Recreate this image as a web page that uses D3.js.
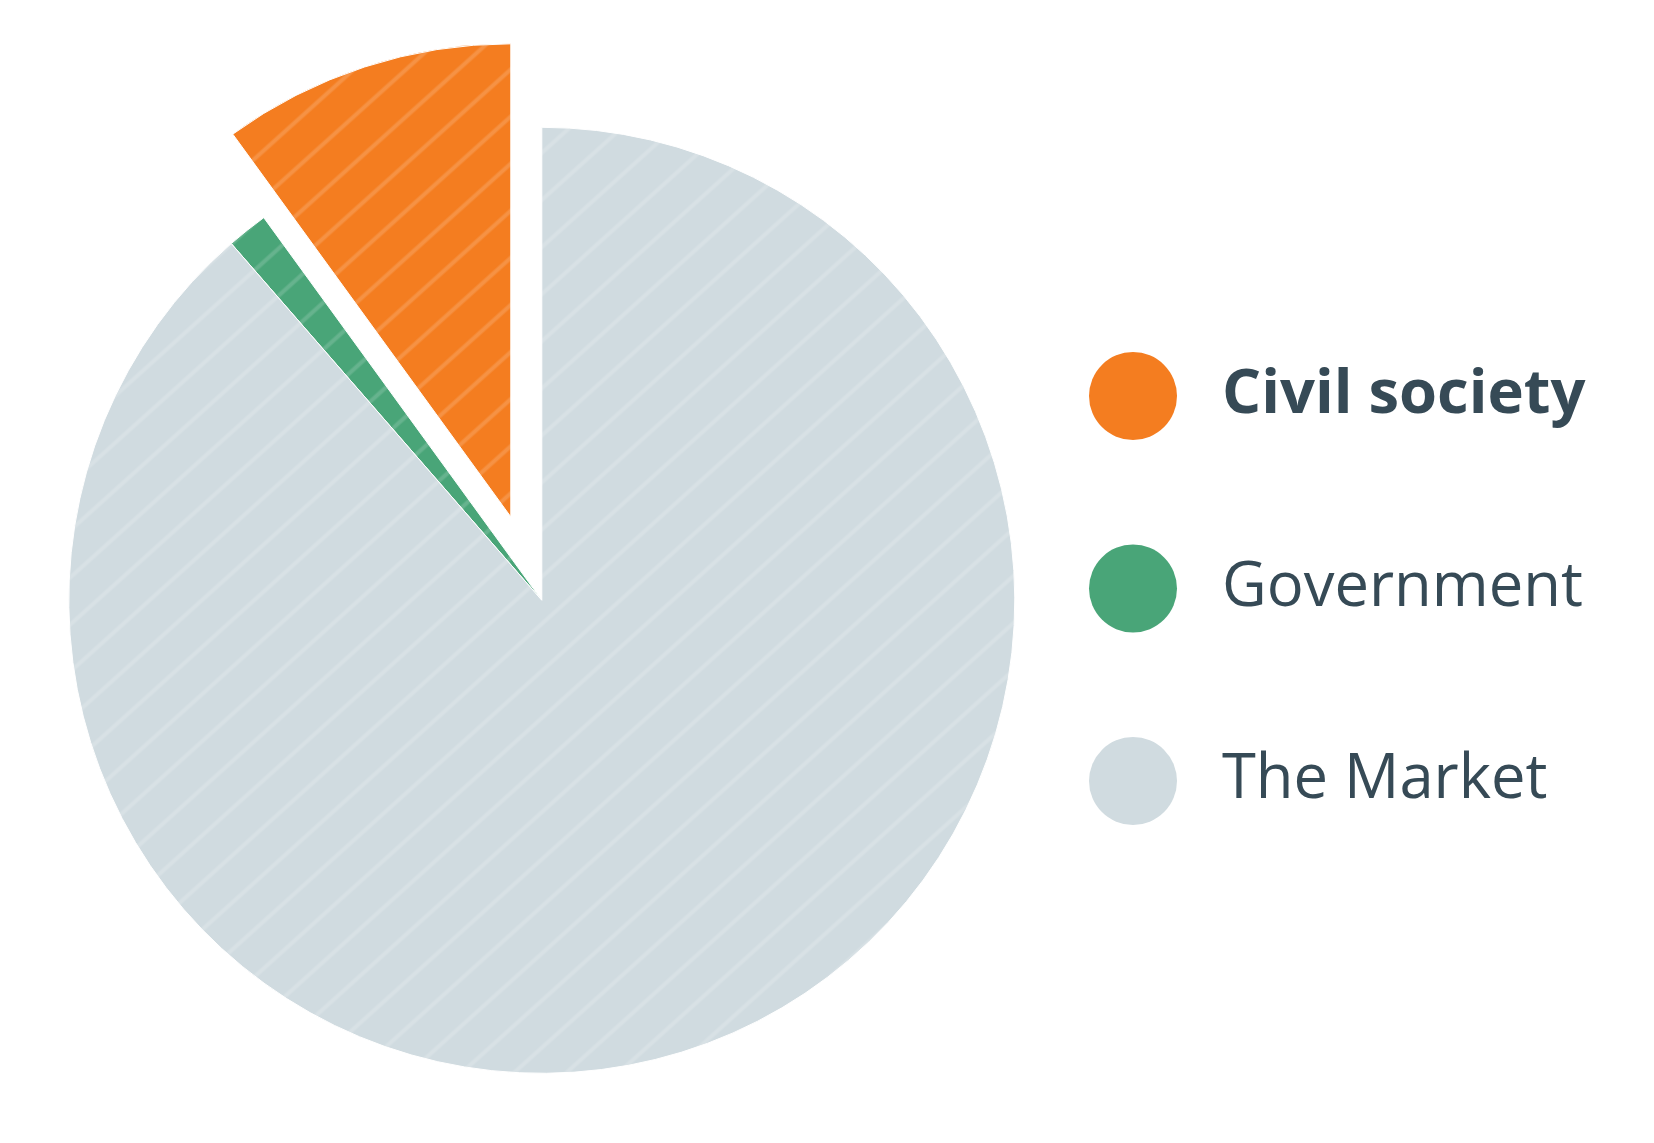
<!DOCTYPE html>
<html>
<head>
<meta charset="utf-8">
<script src="https://cdn.jsdelivr.net/npm/d3@7"></script>
<style>
  html, body { margin: 0; padding: 0; background: #ffffff; }
  svg { display: block; }
</style>
</head>
<body>
<script>
// ---- data ----
const categories = ["Civil society", "Government", "The Market"];
const values = [10, 1.4, 88.6];
const colors = ["#F47D20", "#49A578", "#D0DBE0"];
const legendWeights = ["bold", "normal", "normal"];
const exploded = [true, false, false];

// ---- layout ----
const W = 1654, H = 1143;
const cx = 541.8, cy = 600.3, R = 473;
const explodeShift = { dx: -31, dy: -83.5 };

const svg = d3.select("body").append("svg")
  .attr("width", W).attr("height", H);

svg.append("rect").attr("width", W).attr("height", H).attr("fill", "#ffffff");

const defs = svg.append("defs");
const pat = defs.append("pattern")
  .attr("id", "hatch")
  .attr("patternUnits", "userSpaceOnUse")
  .attr("width", 35).attr("height", 35)
  .attr("patternTransform", "rotate(-42)");
pat.append("rect")
  .attr("x", 0).attr("y", 15.5).attr("width", 35).attr("height", 4)
  .attr("fill", "#ffffff").attr("fill-opacity", 0.16);

const pie = d3.pie().sort(null).value(d => d.value)
  .startAngle(0).endAngle(-2 * Math.PI);

const data = categories.map((c, i) => ({ name: c, value: values[i], color: colors[i], exploded: exploded[i] }));
const arcs = pie(data);

const arc = d3.arc().innerRadius(0).outerRadius(R);

const g = svg.append("g").attr("transform", `translate(${cx},${cy})`);

const slices = g.selectAll("g.slice").data(arcs).join("g")
  .attr("class", "slice")
  .attr("transform", d => d.data.exploded ? `translate(${explodeShift.dx},${explodeShift.dy})` : null);

slices.append("path")
  .attr("d", arc)
  .attr("fill", d => d.data.color)
  .attr("stroke", "#ffffff")
  .attr("stroke-width", 1);

slices.append("path")
  .attr("d", arc)
  .attr("fill", "url(#hatch)");

// ---- legend ----
const legend = svg.append("g");
const lx = 1133, ly0 = 396, lstep = 192.5;
const items = legend.selectAll("g").data(data).join("g")
  .attr("transform", (d, i) => `translate(${lx},${ly0 + i * lstep})`);
items.append("circle").attr("r", 44).attr("fill", d => d.color);
items.append("text")
  .attr("x", 89).attr("y", 17)
  .attr("font-family", "'Open Sans', sans-serif")
  .attr("font-size", 61.5)
  .attr("font-weight", (d, i) => legendWeights[i])
  .attr("fill", "#364A56")
  .text(d => d.name);
</script>
</body>
</html>
